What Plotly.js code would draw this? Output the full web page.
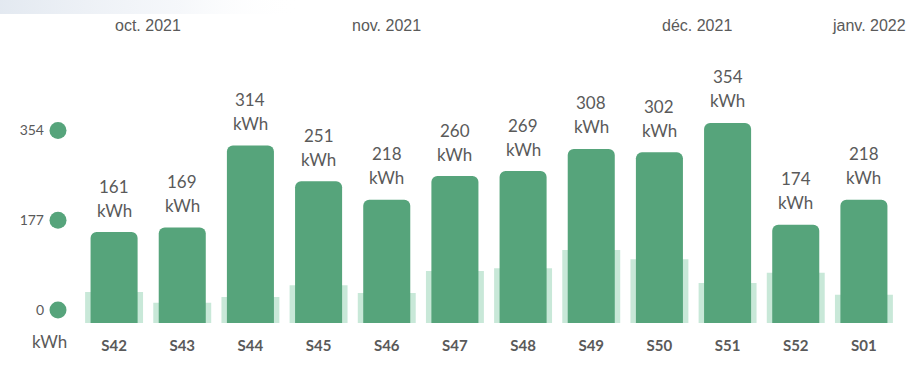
<!DOCTYPE html>
<html>
<head>
<meta charset="utf-8">
<script src="https://cdn.plot.ly/plotly-3.0.1.min.js"></script>
<style>
html,body{margin:0;padding:0;background:#fff;}
#chart{width:923px;height:369px;}
</style>
</head>
<body>
<div id="chart"></div>
<script>
// ---- data ----
const weeks = ["S42","S43","S44","S45","S46","S47","S48","S49","S50","S51","S52","S01"];
const consumption = [161,169,314,251,218,260,269,308,302,354,174,218];
const previous = [55,36,46,67,53,92,97,129,113,71,89,50];
const axisTicks = [0,177,354];
const unit = "kWh";
const months = ["oct. 2021","nov. 2021","déc. 2021","janv. 2022"];
const monthWeekPos = [0.5,4.0,8.55,11.08];

const W = 923, H = 369;
const green = "#56a47b", lightGreen = "#c8e8d8", textCol = "#5a5a5a";

const traces = [
  // faint decorative shadow at top-left
  {type:"scatter", mode:"none", x:[0,300,300,0,0], y:[0,0,14,14,0], fill:"toself",
   fillgradient:{type:"horizontal", colorscale:[[0,"rgba(222,229,238,0.85)"],[0.6,"rgba(236,240,246,0.5)"],[1,"rgba(255,255,255,0)"]]},
   hoverinfo:"skip", xaxis:"x3", yaxis:"y3"},
  {type:"bar", x:weeks, y:previous, width:0.85, marker:{color:lightGreen, line:{width:0}},
   hoverinfo:"skip", xaxis:"x", yaxis:"y"},
  {type:"bar", x:weeks, y:consumption, width:0.69, marker:{color:green, line:{width:0}},
   hoverinfo:"skip", xaxis:"x", yaxis:"y"},
  {type:"scatter", mode:"markers", x:axisTicks.map(()=>0), y:axisTicks,
   marker:{color:green, size:17}, cliponaxis:false, hoverinfo:"skip", xaxis:"x2", yaxis:"y2"}
];

const annotations = [];
weeks.forEach((w,i)=>{
  annotations.push({x:w, y:consumption[i], xref:"x", yref:"y", text:String(consumption[i]),
    showarrow:false, yanchor:"middle", yshift:46, font:{family:"Lato", size:17, color:textCol}});
  annotations.push({x:w, y:consumption[i], xref:"x", yref:"y", text:unit,
    showarrow:false, yanchor:"middle", yshift:22, font:{family:"Lato", size:17, color:textCol}});
});
months.forEach((m,i)=>{
  annotations.push({x:monthWeekPos[i], y:(H-25)/H, xref:"x", yref:"paper", text:m,
    showarrow:false, yanchor:"middle", font:{family:"Liberation Sans, Arial", size:16, color:textCol}});
});
annotations.push({x:49/W, y:(H-341)/H, xref:"paper", yref:"paper", text:unit, showarrow:false,
  xanchor:"center", yanchor:"middle", font:{family:"Lato", size:17, color:textCol}});

const layout = {
  width:W, height:H,
  margin:{l:0,r:0,t:0,b:0},
  paper_bgcolor:"#fff", plot_bgcolor:"rgba(0,0,0,0)",
  showlegend:false,
  barmode:"overlay",
  barcornerradius:6,
  xaxis:{domain:[80/W, 898/W], type:"category", range:[-0.5,11.5], showgrid:false, zeroline:false,
    showline:false, ticks:"", ticklabelstandoff:12,
    tickfont:{family:"Lato", size:15, color:textCol, weight:"bold"}, fixedrange:true},
  yaxis:{domain:[(H-323)/H, (H-40.5)/H], range:[0,500], showgrid:false, zeroline:false,
    showline:false, showticklabels:false, ticks:"", fixedrange:true},
  xaxis2:{domain:[0, 116/W], range:[-1,1], anchor:"y2", visible:false, fixedrange:true},
  yaxis2:{domain:[(H-310)/H, (H-130.5)/H], range:[0,354], anchor:"free", position:44/W,
    side:"left", tickvals:axisTicks, ticktext:axisTicks.map(String), ticks:"", showgrid:false,
    zeroline:false, showline:false, tickfont:{family:"Lato", size:14, color:textCol}, fixedrange:true},
  xaxis3:{domain:[0,1], range:[0,W], anchor:"y3", visible:false, fixedrange:true},
  yaxis3:{domain:[0,1], range:[H,0], anchor:"x3", visible:false, fixedrange:true},
  annotations:annotations
};

Plotly.newPlot("chart", traces, layout, {displayModeBar:false, staticPlot:true});
</script>
</body>
</html>
